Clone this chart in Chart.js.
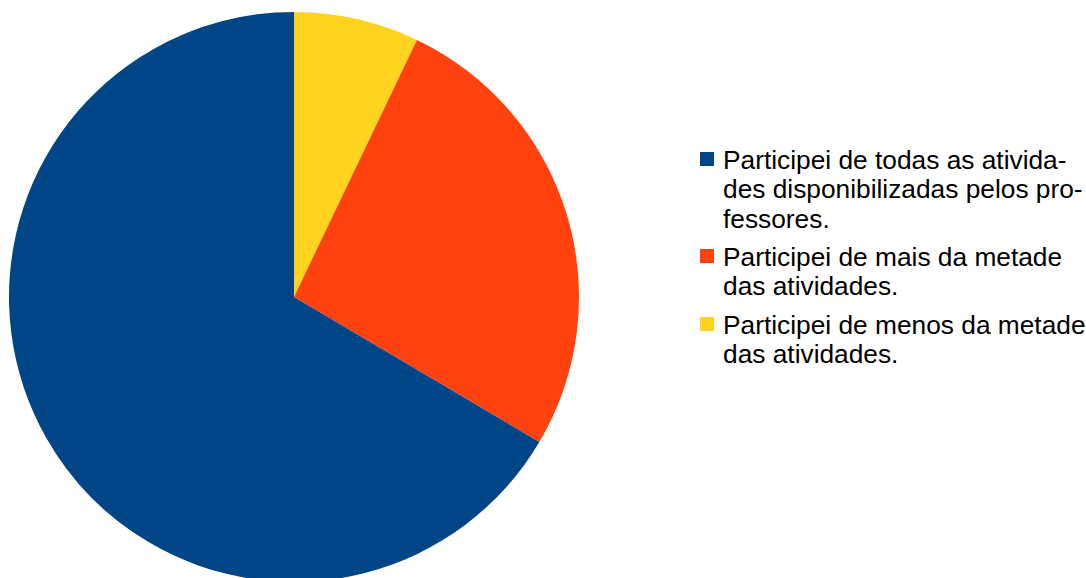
<!DOCTYPE html>
<html>
<head>
<meta charset="utf-8">
<script src="https://cdn.jsdelivr.net/npm/chart.js@4/dist/chart.umd.min.js"></script>
<style>
  html, body { margin: 0; padding: 0; background: #fff; width: 1086px; height: 578px; overflow: hidden; }
  #wrap { position: absolute; left: 9px; top: 12px; width: 570px; height: 570px; }
  #legend { position: absolute; left: 700px; top: 146px; font-family: "Liberation Sans", Arial, sans-serif; font-size: 26.3px; color: #000; }
  .item { position: relative; padding-left: 23px; margin-bottom: 9.3px; }
  .line { height: 29.3px; line-height: 29.3px; white-space: nowrap; }
  .sw { position: absolute; left: 0; top: 6px; width: 14px; height: 14px; }
</style>
</head>
<body>
<div id="wrap"><canvas id="c"></canvas></div>
<div id="legend"></div>
<script>
// Categories (legend order), with the line breaks used in the legend
const categories = [
  ["Participei de todas as ativida-", "des disponibilizadas pelos pro-", "fessores."],
  ["Participei de mais da metade", "das atividades."],
  ["Participei de menos da metade", "das atividades."]
];
// Share of answers (%)
const values = [66.5, 26.4, 7.1];
const colors = ["#004586", "#ff420e", "#ffd320"];

// The pie is drawn clockwise from the top starting with the last category
const order = [2, 1, 0];

const chart = new Chart(document.getElementById('c'), {
  type: 'pie',
  data: {
    labels: order.map(i => categories[i].join(' ')),
    datasets: [{
      data: order.map(i => values[i]),
      backgroundColor: order.map(i => colors[i]),
      borderWidth: 0
    }]
  },
  options: {
    responsive: true,
    maintainAspectRatio: false,
    animation: false,
    layout: { padding: 0 },
    plugins: { legend: { display: false }, tooltip: { enabled: false } }
  }
});

// HTML legend (legend order)
const lg = document.getElementById('legend');
categories.forEach((lines, i) => {
  const it = document.createElement('div');
  it.className = 'item';
  const sw = document.createElement('div');
  sw.className = 'sw';
  sw.style.background = colors[i];
  it.appendChild(sw);
  lines.forEach(t => {
    const l = document.createElement('div');
    l.className = 'line';
    l.textContent = t;
    it.appendChild(l);
  });
  lg.appendChild(it);
});
</script>
</body>
</html>
